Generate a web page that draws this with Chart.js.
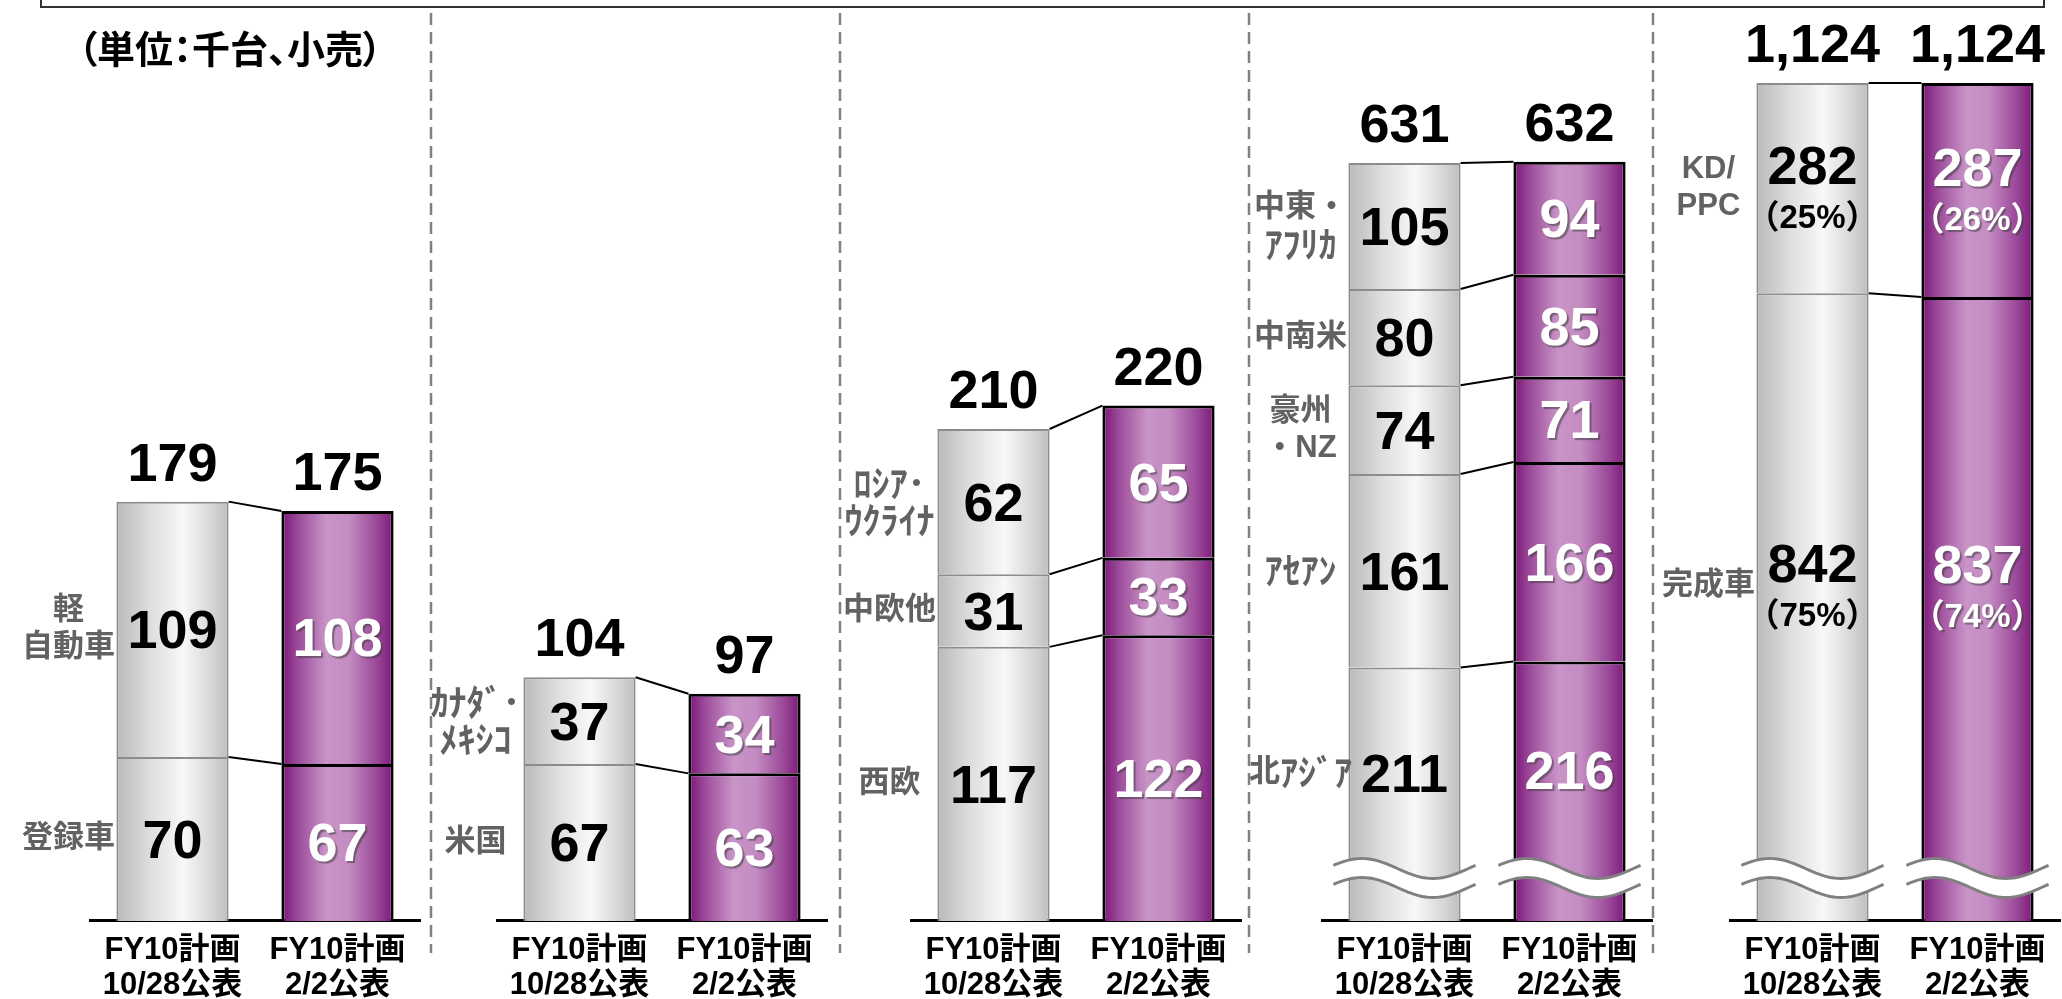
<!DOCTYPE html>
<html lang="ja">
<head>
<meta charset="utf-8">
<title>FY10計画 小売台数</title>
<script src="https://cdn.jsdelivr.net/npm/chart.js@4.4.1/dist/chart.umd.min.js"></script>
<style>
  html, body { margin: 0; padding: 0; background: #fff; overflow: hidden; }
  #page { position: relative; width: 2062px; height: 999px; }
  canvas { position: absolute; top: 0; }
  #unit {
    position: absolute; left: 78px; top: 26px;
    font: bold 38px 'Noto Sans CJK JP', sans-serif; line-height: 42px;
    font-feature-settings: 'palt'; color: #000; white-space: nowrap;
  }
</style>
</head>
<body>
<div id="page">
  <canvas id="frame" width="2062" height="999"></canvas>
  <div id="unit">（単位：千台、小売）</div>
  <canvas id="c1"></canvas>
  <canvas id="c2"></canvas>
  <canvas id="c3"></canvas>
  <canvas id="c4"></canvas>
  <canvas id="c5"></canvas>
</div>
<script>
// x categories (same in every panel)
const periods = [['FY10計画', '10/28公表'], ['FY10計画', '2/2公表']];

// segments are listed bottom -> top
const domesticNames = [['登録車'], ['軽', '自動車']];
const domesticOct = [70, 109];
const domesticFeb = [67, 108];

const naNames = [['米国'], ['ｶﾅﾀﾞ･', 'ﾒｷｼｺ']];
const naOct = [67, 37];
const naFeb = [63, 34];

const euNames = [['西欧'], ['中欧他'], ['ﾛｼｱ･', 'ｳｸﾗｲﾅ']];
const euOct = [117, 31, 62];
const euFeb = [122, 33, 65];

const otherNames = [['北ｱｼﾞｱ'], ['ｱｾｱﾝ'], ['豪州', '・NZ'], ['中南米'], ['中東・', 'ｱﾌﾘｶ']];
const otherOct = [211, 161, 74, 80, 105];
const otherFeb = [216, 166, 71, 85, 94];

const typeNames = [['完成車'], ['KD/', 'PPC']];
const typeOct = [842, 282];
const typeFeb = [837, 287];
const typeShareOct = [75, 25];
const typeShareFeb = [74, 26];

// layout of the five panels
const PAD_L = 92, PAD_R = 8, AREA_W = 330, TOP = 20, CANVAS_H = 1015;
const BAR_PCT = 0.68;
const panels = [
  { id: 'c1', names: domesticNames, before: domesticOct, after: domesticFeb, left: 90, yMax: 384.6 },
  { id: 'c2', names: naNames, before: naOct, after: naFeb, left: 497, yMax: 384.6 },
  { id: 'c3', names: euNames, before: euOct, after: euFeb, left: 911, yMax: 384.6 },
  { id: 'c4', names: otherNames, before: otherOct, after: otherFeb, left: 1322, yMax: 750, breakY: 878 },
  { id: 'c5', names: typeNames, before: typeOct, after: typeFeb, left: 1730, yMax: 1208.5, breakY: 878,
    shares: [typeShareOct, typeShareFeb] }
];

const NUM_FONT = "bold 54px 'Liberation Sans', Arial, sans-serif";
const PCT_FONT = "bold 33px 'Liberation Sans', 'Noto Sans CJK JP', sans-serif";
const CAT_FONT = "bold 31px 'Liberation Sans', 'Noto Sans CJK JP', sans-serif";
const KANA_FONT = "bold 36px 'Noto Sans CJK JP', sans-serif";
const HALF_KANA = /[\uFF61-\uFF9F]/;

function barFill(c) {
  const chart = c.chart;
  const xs = chart.scales.x;
  if (c.dataIndex === undefined || !xs || !xs.width) return '#ccc';
  const cx = xs.getPixelForValue(c.dataIndex);
  const half = xs.width / 2 * BAR_PCT / 2;
  const g = chart.ctx.createLinearGradient(cx - half, 0, cx + half, 0);
  if (c.dataIndex === 0) {
    g.addColorStop(0, '#b9b9b9');
    g.addColorStop(0.3, '#dedede');
    g.addColorStop(0.6, '#f8f8f8');
    g.addColorStop(0.85, '#d6d6d6');
    g.addColorStop(1, '#bdbdbd');
  } else {
    g.addColorStop(0, '#7a1478');
    g.addColorStop(0.15, '#9c4c9a');
    g.addColorStop(0.4, '#c994c7');
    g.addColorStop(0.6, '#c48cc2');
    g.addColorStop(0.85, '#9a4898');
    g.addColorStop(1, '#7c177a');
  }
  return g;
}

function drawBreak(ctx, el, yc) {
  const w = el.width + 30, x0 = el.x - w / 2, amp = 10, gap = 19, steps = 40;
  const yAt = (t, off) => yc + off - amp * Math.cos(2 * Math.PI * (t - 0.2));
  ctx.save();
  ctx.beginPath();
  for (let s = 0; s <= steps; s++) {
    const t = s / steps;
    ctx.lineTo(x0 + t * w, yAt(t, -gap / 2));
  }
  for (let s = steps; s >= 0; s--) {
    const t = s / steps;
    ctx.lineTo(x0 + t * w, yAt(t, gap / 2));
  }
  ctx.closePath();
  ctx.fillStyle = '#fff';
  ctx.fill();
  ctx.strokeStyle = '#808080';
  ctx.lineWidth = 3;
  [-gap / 2, gap / 2].forEach(off => {
    ctx.beginPath();
    for (let s = 0; s <= steps; s++) {
      const t = s / steps;
      ctx.lineTo(x0 + t * w, yAt(t, off));
    }
    ctx.stroke();
  });
  ctx.restore();
}

function text(ctx, str, x, y, font, color, shadow) {
  ctx.save();
  ctx.font = font;
  ctx.fillStyle = color;
  ctx.textAlign = 'center';
  if (shadow) {
    ctx.shadowColor = 'rgba(60,60,60,0.55)';
    ctx.shadowOffsetX = 2;
    ctx.shadowOffsetY = 2;
    ctx.shadowBlur = 1;
  }
  ctx.fillText(str, x, y);
  ctx.restore();
}

// category name: half-width kana drawn a bit larger, centred as one line
function nameLine(ctx, str, cx, cy) {
  const runs = [];
  for (const ch of str) {
    const font = HALF_KANA.test(ch) ? KANA_FONT : CAT_FONT;
    if (runs.length && runs[runs.length - 1].font === font) runs[runs.length - 1].s += ch;
    else runs.push({ font, s: ch });
  }
  let total = 0;
  runs.forEach(r => { ctx.font = r.font; r.w = ctx.measureText(r.s).width; total += r.w; });
  let x = cx - total / 2;
  ctx.textAlign = 'left';
  runs.forEach(r => { ctx.font = r.font; ctx.fillText(r.s, x, cy); x += r.w; });
}

const panelText = {
  id: 'panelText',
  afterDatasetsDraw(chart, args, opts) {
    const ctx = chart.ctx;
    const metas = chart.data.datasets.map((d, k) => chart.getDatasetMeta(k));
    const n = metas.length;

    // connector lines between the two bars
    ctx.save();
    ctx.strokeStyle = '#000';
    ctx.lineWidth = 2;
    metas.forEach(m => {
      const a = m.data[0], b = m.data[1];
      ctx.beginPath();
      ctx.moveTo(a.x + a.width / 2, a.y);
      ctx.lineTo(b.x - b.width / 2, b.y);
      ctx.stroke();
    });
    ctx.restore();

    if (opts.breakY) metas[0].data.forEach(el => drawBreak(ctx, el, opts.breakY));

    metas.forEach((m, k) => {
      const ds = chart.data.datasets[k];
      m.data.forEach((el, i) => {
        const bottom = opts.breakY ? Math.min(el.base, opts.breakY) : el.base;
        const yc = (el.y + bottom) / 2;
        const white = i === 1;
        const color = white ? '#fff' : '#000';
        if (opts.shares) {
          text(ctx, String(ds.data[i]), el.x, yc - 23 + 19, NUM_FONT, color, white);
          text(ctx, '（' + opts.shares[i][k] + '%）', el.x, yc + 28 + 12, PCT_FONT, color, white);
        } else {
          text(ctx, String(ds.data[i]), el.x, yc + 19, NUM_FONT, color, white);
        }
        if (i === 0) {
          const lines = ds.names;
          ctx.save();
          ctx.fillStyle = '#626262';
          ctx.textBaseline = 'middle';
          lines.forEach((ln, j) => {
            nameLine(ctx, ln, el.x - el.width / 2 - 48, yc + (j - (lines.length - 1) / 2) * 37);
          });
          ctx.restore();
        }
      });
    });

    // totals above the bars
    metas[n - 1].data.forEach((el, i) => {
      const total = chart.data.datasets.reduce((s, d) => s + d.data[i], 0);
      text(ctx, total.toLocaleString('en-US'), el.x, el.y - 21, NUM_FONT, '#000', false);
    });
  }
};

function makeChart(p) {
  const cv = document.getElementById(p.id);
  cv.width = AREA_W + PAD_L + PAD_R;
  cv.height = CANVAS_H;
  cv.style.width = cv.width + 'px';
  cv.style.height = CANVAS_H + 'px';
  cv.style.left = (p.left - PAD_L) + 'px';
  return new Chart(cv, {
    type: 'bar',
    data: {
      labels: periods,
      datasets: p.names.map((name, k) => ({
        label: name.join(''),
        names: name,
        data: [p.before[k], p.after[k]],
        backgroundColor: barFill,
        borderColor: c => c.dataIndex === 1 ? '#000' : '#8c8c8c',
        borderWidth: c => c.dataIndex === 1 ? 3 : 2,
        borderSkipped: 'start',
        barPercentage: BAR_PCT,
        categoryPercentage: 1
      }))
    },
    options: {
      responsive: false,
      animation: false,
      layout: { padding: { left: PAD_L, right: PAD_R, top: TOP, bottom: 0 } },
      plugins: {
        legend: { display: false },
        tooltip: { enabled: false },
        panelText: { breakY: p.breakY, shares: p.shares }
      },
      scales: {
        x: {
          stacked: true,
          grid: { display: false, drawTicks: false },
          border: { display: true, color: '#000', width: 3 },
          ticks: {
            color: '#000', padding: 12, autoSkip: false, maxRotation: 0,
            font: { family: "'Liberation Sans', 'Noto Sans CJK JP', sans-serif", size: 31, weight: 'bold', lineHeight: 1.13 }
          }
        },
        y: { stacked: true, display: false, min: 0, max: p.yMax }
      }
    },
    plugins: [panelText]
  });
}

// frame: top box edge and dashed panel dividers
const fctx = document.getElementById('frame').getContext('2d');
fctx.strokeStyle = '#333';
fctx.lineWidth = 2;
fctx.beginPath();
fctx.moveTo(41, 0); fctx.lineTo(41, 7); fctx.lineTo(2044, 7); fctx.lineTo(2044, 0);
fctx.stroke();
fctx.strokeStyle = '#808080';
fctx.lineWidth = 2.5;
fctx.setLineDash([12, 7]);
[431, 840, 1249, 1653].forEach(x => {
  fctx.beginPath();
  fctx.moveTo(x, 13);
  fctx.lineTo(x, 953);
  fctx.stroke();
});

panels.forEach(makeChart);
</script>
</body>
</html>
